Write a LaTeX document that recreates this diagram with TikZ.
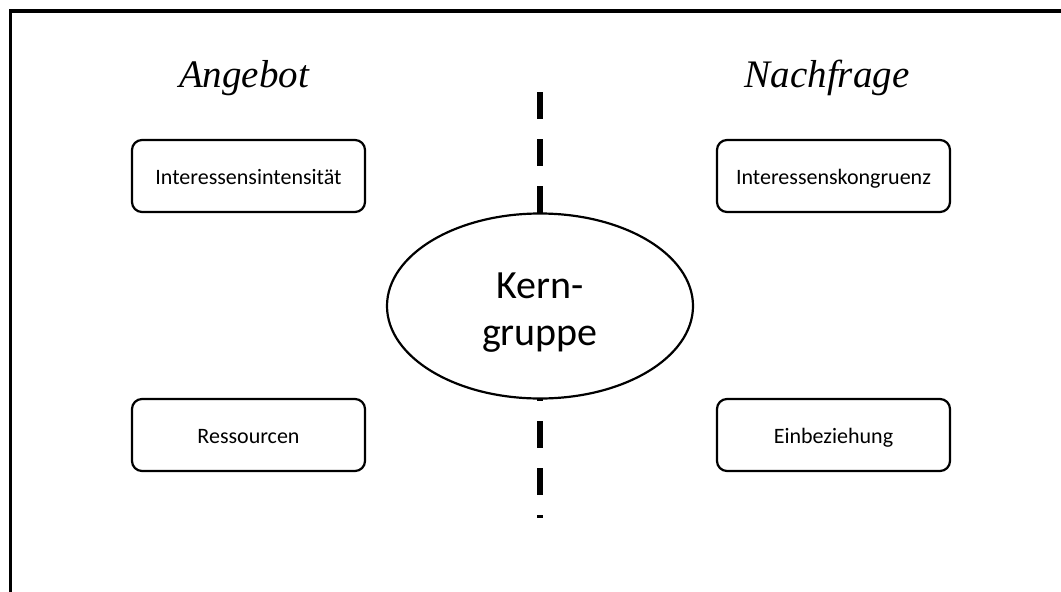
\documentclass[tikz,border=0pt]{standalone}
\usepackage{fontspec}
\setsansfont{Carlito}
\newfontfamily\titlefont{Liberation Serif}
\usepackage{tikz}
\usetikzlibrary{shapes.geometric, positioning}
\definecolor{mydark}{RGB}{0,0,0}
\tikzset{
  factor/.style={rectangle, draw=mydark, fill=white, rounded corners=10pt,
    minimum width=233pt, minimum height=72pt, line width=2.2pt,
    text height=16pt, text depth=0pt,
    font=\sffamily\fontsize{22}{26}\selectfont},
  core/.style={ellipse, draw=mydark, fill=white, line width=2.2pt,
    minimum width=306pt, minimum height=185pt, inner sep=0pt},
  coretext/.style={align=center, inner sep=0pt,
    font=\sffamily\fontsize{40}{47}\selectfont},
  heading/.style={font=\titlefont\itshape\fontsize{39}{44}\selectfont, anchor=base},
  divider/.style={line width=6.5pt, color=mydark, dash pattern=on 27pt off 20pt},
  frame/.style={line width=3.4pt, color=mydark}
}
\begin{document}
\begin{tikzpicture}[x=1pt, y=-1pt]
  \useasboundingbox (0,0) rectangle (1061,592);
  % ── Frame ──
  \draw[frame] (10.7,592) -- (10.7,11) -- (1061,11);
  % ── Headings ──
  \node[heading] (angebot) at (244,87) {Angebot};
  \node[heading] (nachfrage) at (827,87) {Nachfrage};
  % ── Divider ──
  \coordinate (divtop) at (540,92);
  \coordinate (divbot) at (540,518);
  \draw[divider] (divtop) -- (divbot);
  % ── Core ──
  \node[core] (kern) at (540,306) {};
  \node[coretext] (kerntext) at ([yshift=-7pt]kern.center) {Kern-\\gruppe};
  % ── Factors ──
  \node[factor] (intens) at (248.5,176) {Interessensintensität};
  \node[factor] (kongru) at (833.5,176) {Interessenskongruenz};
  \node[factor] (ressou) at (248.5,435) {Ressourcen};
  \node[factor] (einbez) at (833.5,435) {Einbeziehung};
\end{tikzpicture}
\end{document}
